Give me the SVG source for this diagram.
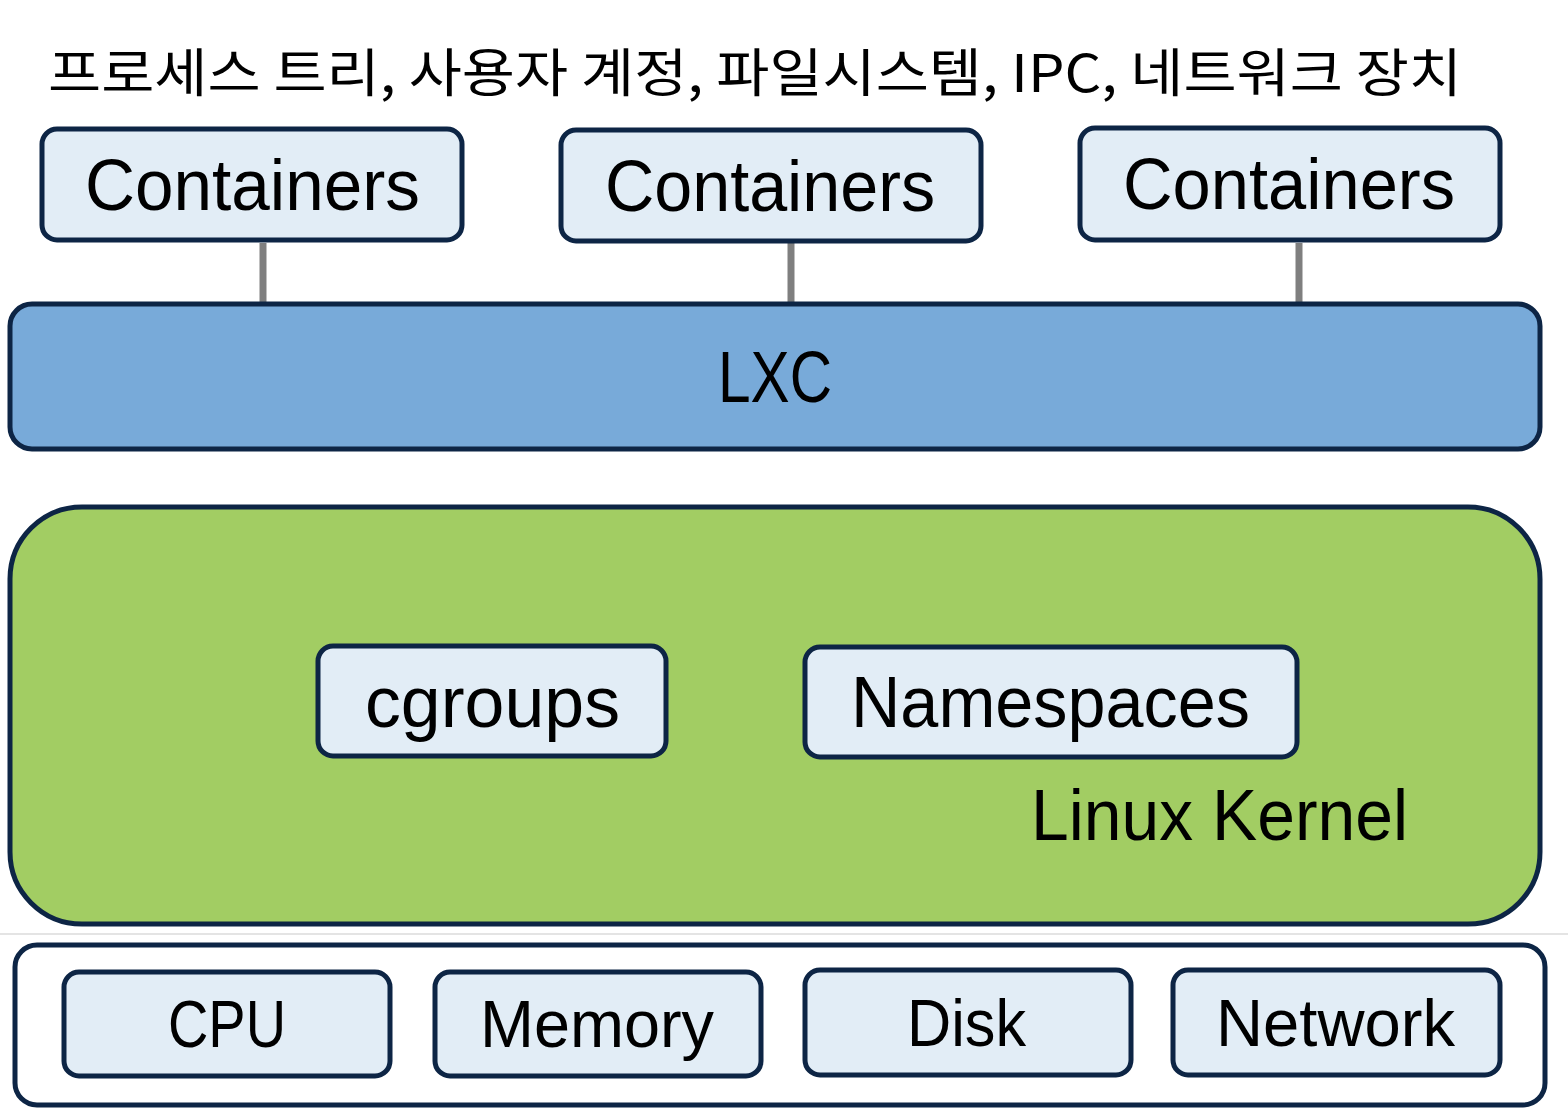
<svg xmlns="http://www.w3.org/2000/svg" width="1568" height="1114" viewBox="0 0 1568 1114">
<style>
.box{fill:#e2edf6;stroke:#0d2545;stroke-width:5}
.lbl{font-family:"Liberation Sans","Noto Sans",sans-serif;fill:#000;text-anchor:start}
.conn{stroke:#7f7f7f;stroke-width:7}
</style>
<rect width="1568" height="1114" fill="#fff"/>
<text id="title" x="48" y="92" font-family="'Noto Sans CJK KR','Liberation Sans',sans-serif" font-size="52" textLength="1414" lengthAdjust="spacingAndGlyphs">프로세스 트리, 사용자 계정, 파일시스템, IPC, 네트워크 장치</text>
<g id="connectors">
<line class="conn" x1="263" y1="243" x2="263" y2="304"/>
<line class="conn" x1="791" y1="243" x2="791" y2="304"/>
<line class="conn" x1="1299" y1="243" x2="1299" y2="304"/>
</g>
<g id="container1"><rect class="box" x="42" y="129" width="420" height="111" rx="15"/><text class="lbl" x="85" y="210" font-size="72" textLength="335" lengthAdjust="spacingAndGlyphs">Containers</text></g>
<g id="container2"><rect class="box" x="561" y="130" width="420" height="111" rx="15"/><text class="lbl" x="605" y="211" font-size="72" textLength="330" lengthAdjust="spacingAndGlyphs">Containers</text></g>
<g id="container3"><rect class="box" x="1080" y="128" width="420" height="112" rx="15"/><text class="lbl" x="1123" y="209" font-size="72" textLength="332" lengthAdjust="spacingAndGlyphs">Containers</text></g>
<g id="lxc"><rect x="10" y="304" width="1530" height="145" rx="22" fill="#78aad9" stroke="#0d2545" stroke-width="5"/><text class="lbl" x="718" y="402" font-size="72" textLength="114" lengthAdjust="spacingAndGlyphs">LXC</text></g>
<g id="kernel"><rect x="10" y="507" width="1530" height="417" rx="72" fill="#a2cd63" stroke="#0d2545" stroke-width="5"/><text class="lbl" x="1031" y="840" font-size="72" textLength="377" lengthAdjust="spacingAndGlyphs">Linux Kernel</text></g>
<g id="cgroups"><rect class="box" x="318" y="646" width="348" height="110" rx="15"/><text class="lbl" x="365" y="727" font-size="72" textLength="255" lengthAdjust="spacingAndGlyphs">cgroups</text></g>
<g id="namespaces"><rect class="box" x="805" y="647" width="492" height="110" rx="15"/><text class="lbl" x="851" y="727" font-size="72" textLength="399" lengthAdjust="spacingAndGlyphs">Namespaces</text></g>
<line x1="0" y1="934" x2="1568" y2="934" stroke="#e4e4e4" stroke-width="2"/>
<g id="hardware"><rect x="15" y="945" width="1530" height="160" rx="22" fill="#fff" stroke="#0d2545" stroke-width="5"/></g>
<g id="cpu"><rect class="box" x="64" y="972" width="326" height="104" rx="15"/><text class="lbl" x="168" y="1047" font-size="66" textLength="118" lengthAdjust="spacingAndGlyphs">CPU</text></g>
<g id="memory"><rect class="box" x="435" y="972" width="326" height="104" rx="15"/><text class="lbl" x="480" y="1047" font-size="66" textLength="234" lengthAdjust="spacingAndGlyphs">Memory</text></g>
<g id="disk"><rect class="box" x="805" y="970" width="326" height="105" rx="15"/><text class="lbl" x="907" y="1046" font-size="66" textLength="119" lengthAdjust="spacingAndGlyphs">Disk</text></g>
<g id="network"><rect class="box" x="1173" y="970" width="327" height="105" rx="15"/><text class="lbl" x="1216" y="1046" font-size="66" textLength="239" lengthAdjust="spacingAndGlyphs">Network</text></g>
</svg>
